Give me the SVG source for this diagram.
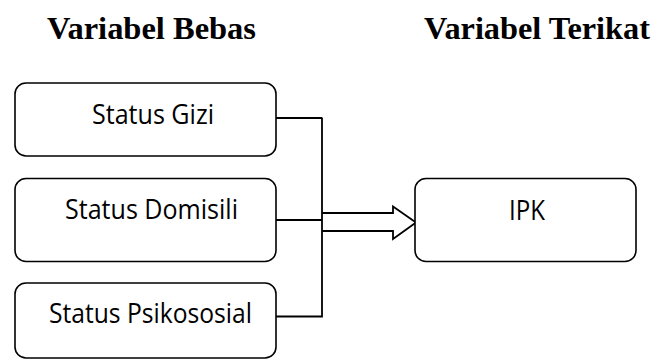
<svg xmlns="http://www.w3.org/2000/svg" width="656" height="360" viewBox="0 0 656 360">
<style>
.box{fill:#fff;stroke:#000;stroke-width:1.6}
.lbl{font-family:"Open Sans","Noto Sans",sans-serif;font-size:27px;fill:#000}
.title{font-family:"Liberation Serif","Times New Roman",serif;font-size:31.5px;font-weight:bold;fill:#000}
.conn{fill:none;stroke:#000;stroke-width:1.8}
</style>
<rect width="656" height="360" fill="#fff"/>
<text class="title" x="47" y="39" textLength="209" lengthAdjust="spacingAndGlyphs">Variabel Bebas</text>
<text class="title" x="424" y="39" textLength="226" lengthAdjust="spacingAndGlyphs">Variabel Terikat</text>
<g id="connectors">
<path class="conn" d="M276 118H322M276 220H322M276 316.5H322M322 117.5V317.5"/>
<path class="conn" d="M322 213H393V206.5L416 222.5L393 239V231H322"/>
</g>
<g id="status-gizi">
<rect class="box" x="15" y="83" width="261" height="73" rx="11"/>
<text class="lbl" x="92" y="124" textLength="122" lengthAdjust="spacingAndGlyphs">Status Gizi</text>
</g>
<g id="status-domisili">
<rect class="box" x="15" y="178.5" width="261" height="83" rx="11"/>
<text class="lbl" x="65" y="218.5" textLength="173" lengthAdjust="spacingAndGlyphs">Status Domisili</text>
</g>
<g id="status-psikososial">
<rect class="box" x="15" y="283" width="261" height="75" rx="11"/>
<text class="lbl" x="49" y="322.5" textLength="203" lengthAdjust="spacingAndGlyphs">Status Psikososial</text>
</g>
<g id="ipk">
<rect class="box" x="415" y="178.5" width="221" height="83" rx="11"/>
<text class="lbl" x="509" y="220" textLength="36" lengthAdjust="spacingAndGlyphs">IPK</text>
</g>
</svg>
